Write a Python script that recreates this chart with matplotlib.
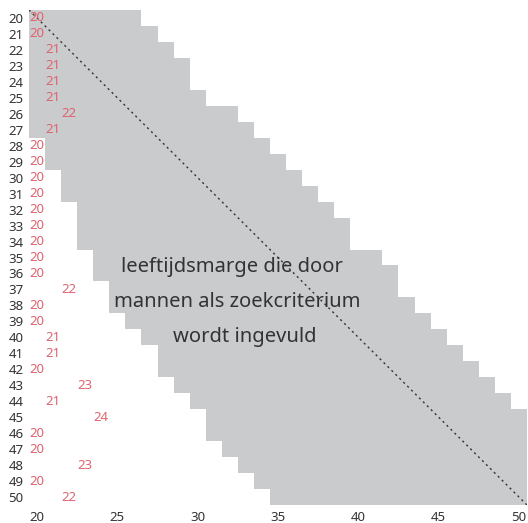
import numpy as np
import matplotlib.pyplot as plt

plt.rcParams['font.family'] = ['Noto Sans', 'DejaVu Sans']

# leeftijd van de man (rijen)
ages = list(range(20, 51))
# leeftijdsmarge (grijze band): laagste en hoogste leeftijd
band_min = [20, 20, 20, 20, 20, 20, 20, 20, 21, 21,
            22, 22, 23, 23, 23, 24, 24, 25, 25, 26,
            27, 28, 28, 29, 30, 31, 31, 32, 33, 34, 35]
band_max = [26, 27, 28, 29, 29, 30, 32, 33, 34, 35,
            36, 37, 38, 39, 39, 41, 42, 42, 43, 44,
            45, 46, 47, 48, 49, 50, 50, 50, 50, 50, 50]
# minimale leeftijd (rode getallen)
min_age = [20, 20, 21, 21, 21, 21, 22, 21, 20, 20,
           20, 20, 20, 20, 20, 20, 20, 22, 20, 20,
           21, 21, 20, 23, 21, 24, 20, 20, 23, 20, 22]
xticks = [20, 25, 30, 35, 40, 45, 50]

gray = '#cacbcd'
red = '#e0636f'
textcol = '#333333'

fig = plt.figure(figsize=(5.28, 5.23), dpi=100)
ax = fig.add_axes([29 / 528, 18 / 523, 498 / 528, 495 / 523])

widths = np.array(band_max) - np.array(band_min) + 1
ax.barh(ages, widths, left=np.array(band_min) - 0.5, height=1.0,
        color=gray, linewidth=0)

ax.plot([19.5, 50.5], [19.5, 50.5], color='#333333', linestyle=(0, (1.5, 2.5)),
        linewidth=1.0)

for a, m in zip(ages, min_age):
    ax.text(m, a, str(m), color=red, fontsize=9.5, ha='center', va='center')

ax.text(32.15, 35.6, 'leeftijdsmarge die door', fontsize=14.5, color=textcol,
        ha='center', va='center')
ax.text(32.45, 37.8, 'mannen als zoekcriterium', fontsize=14.5, color=textcol,
        ha='center', va='center')
ax.text(32.9, 40.0, 'wordt ingevuld', fontsize=14.5, color=textcol,
        ha='center', va='center')

ax.set_xlim(19.5, 50.5)
ax.set_ylim(50.5, 19.5)
ax.set_xticks(xticks)
ax.set_yticks(ages)
ax.tick_params(length=0, labelsize=9.5, labelcolor=textcol, pad=4)
for s in ax.spines.values():
    s.set_visible(False)

fig.savefig('out.png', dpi=100)
